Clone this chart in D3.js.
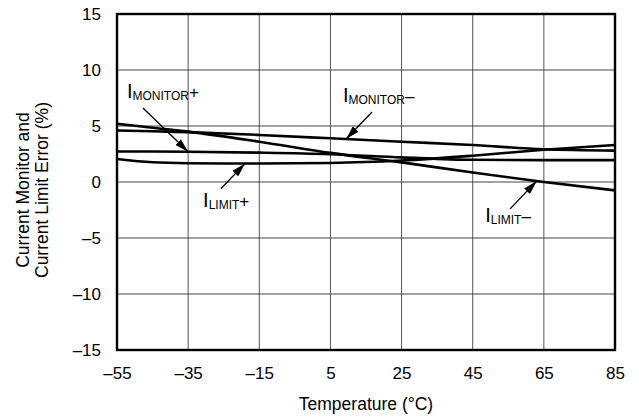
<!DOCTYPE html>
<html>
<head>
<meta charset="utf-8">
<script src="https://cdn.jsdelivr.net/npm/d3@7"></script>
<style>
  html, body { margin: 0; padding: 0; background: #fff; }
  svg { display: block; font-family: "Liberation Sans", Arial, sans-serif; }
</style>
</head>
<body>
<svg id="chart" width="639" height="419"></svg>
<script>
// ---- Data ----
const temperatures = [-55, -45, -35, -15, 5, 25, 45, 65, 85];
const limitMinus   = [5.2, 4.85, 4.5, 3.6, 2.6, 1.75, 0.85, 0.0, -0.75];
const monitorMinus = [4.6, 4.53, 4.45, 4.2, 3.9, 3.6, 3.3, 2.92, 2.8];
const monitorPlus  = [2.72, 2.72, 2.7, 2.62, 2.48, 2.2, 1.98, 1.95, 1.95];
const limitPlus    = [2.05, 1.76, 1.68, 1.65, 1.7, 1.92, 2.35, 2.88, 3.3];

const xTicks = [-55, -35, -15, 5, 25, 45, 65, 85];
const yTicks = [-15, -10, -5, 0, 5, 10, 15];

const xTitle = "Temperature (°C)";
const yTitleLines = ["Current Monitor and", "Current Limit Error (%)"];

// annotations: label anchor (t, v), arrow start (t, v), arrow tip temperature on the series
const annotations = [
  { sub: "MONITOR", sign: "+", series: monitorPlus,  lt: -52.2, lv: 7.5,  st: -47.7, sv: 6.6,  tip: -35 },
  { sub: "MONITOR", sign: "–", series: monitorMinus, lt: 8.5,   lv: 7.1,  st: 16.7,  sv: 6.25, tip: 9.4 },
  { sub: "LIMIT",   sign: "+", series: limitPlus,    lt: -30.8, lv: -2.25, st: -25.8, sv: -0.6, tip: -19 },
  { sub: "LIMIT",   sign: "–", series: limitMinus,   lt: 48.5,  lv: -3.6, st: 55.5,  sv: -2.4, tip: 63 }
];

// ---- Layout ----
const svg = d3.select("#chart");
const L = 117, R = 615, T = 14, B = 350;

const x = d3.scaleLinear().domain([-55, 85]).range([L, R]);
const y = d3.scaleLinear().domain([-15, 15]).range([B, T]);

const fmt = d => (d < 0 ? "–" + Math.abs(d) : String(d));

// grid
const grid = svg.append("g");
grid.selectAll("line.vx").data(xTicks).join("line")
  .attr("x1", d => x(d)).attr("x2", d => x(d))
  .attr("y1", T).attr("y2", B)
  .attr("stroke", "#555").attr("stroke-width", 1);
grid.selectAll("line.hy").data(yTicks).join("line")
  .attr("x1", L).attr("x2", R)
  .attr("y1", d => y(d)).attr("y2", d => y(d))
  .attr("stroke", "#444").attr("stroke-width", 1);

// axes (labels only)
const xAxis = d3.axisBottom(x).tickValues(xTicks).tickFormat(fmt).tickSize(0).tickPadding(17);
const gx = svg.append("g").attr("transform", `translate(0,${B})`).call(xAxis);
gx.select(".domain").remove();
gx.selectAll("text").attr("font-size", 17).attr("fill", "#000")
  .attr("font-family", "Liberation Sans, Arial, sans-serif");

const yAxis = d3.axisLeft(y).tickValues(yTicks).tickFormat(fmt).tickSize(0).tickPadding(16);
const gy = svg.append("g").attr("transform", `translate(${L},0)`).call(yAxis);
gy.select(".domain").remove();
gy.selectAll("text").attr("font-size", 17).attr("fill", "#000")
  .attr("font-family", "Liberation Sans, Arial, sans-serif");

// curves
const seriesList = [limitMinus, monitorMinus, monitorPlus, limitPlus];
const line = d3.line()
  .x((d, i) => x(temperatures[i]))
  .y(d => y(d))
  .curve(d3.curveMonotoneX);
svg.append("g").selectAll("path").data(seriesList).join("path")
  .attr("d", d => line(d))
  .attr("fill", "none").attr("stroke", "#000").attr("stroke-width", 2.6);

// frame
svg.append("rect").attr("x", L).attr("y", T).attr("width", R - L).attr("height", B - T)
  .attr("fill", "none").attr("stroke", "#000").attr("stroke-width", 2.4);

// arrow marker
svg.append("defs").append("marker")
  .attr("id", "arrow").attr("viewBox", "0 0 14 8")
  .attr("refX", 14).attr("refY", 4)
  .attr("markerWidth", 14).attr("markerHeight", 8)
  .attr("markerUnits", "userSpaceOnUse")
  .attr("orient", "auto")
  .append("path").attr("d", "M0,0 L14,4 L0,8 Z").attr("fill", "#000");

const interp = (series, t) => {
  const i = Math.max(1, d3.bisectLeft(temperatures, t));
  const t0 = temperatures[i - 1], t1 = temperatures[i];
  const k = (t - t0) / (t1 - t0);
  return series[i - 1] + k * (series[i] - series[i - 1]);
};

const ann = svg.append("g");
annotations.forEach(a => {
  ann.append("line")
    .attr("x1", x(a.st)).attr("y1", y(a.sv))
    .attr("x2", x(a.tip)).attr("y2", y(interp(a.series, a.tip)))
    .attr("stroke", "#000").attr("stroke-width", 1.3)
    .attr("marker-end", "url(#arrow)");
  const tx = ann.append("text").attr("x", x(a.lt)).attr("y", y(a.lv)).attr("fill", "#000");
  tx.append("tspan").attr("font-size", 20).text("I");
  tx.append("tspan").attr("font-size", 12).attr("dy", 2).text(a.sub);
  tx.append("tspan").attr("font-size", 17).attr("dy", -2).text(a.sign);
});

// titles
svg.append("text").attr("x", (L + R) / 2).attr("y", 410)
  .attr("text-anchor", "middle").attr("font-size", 17.5).attr("fill", "#000")
  .text(xTitle);

const yt = svg.append("text")
  .attr("transform", "translate(29,190) rotate(-90)")
  .attr("text-anchor", "middle").attr("font-size", 17.5).attr("fill", "#000");
yTitleLines.forEach((s, i) => {
  yt.append("tspan").attr("x", 0).attr("dy", i === 0 ? 0 : 19).text(s);
});
</script>
</body>
</html>
